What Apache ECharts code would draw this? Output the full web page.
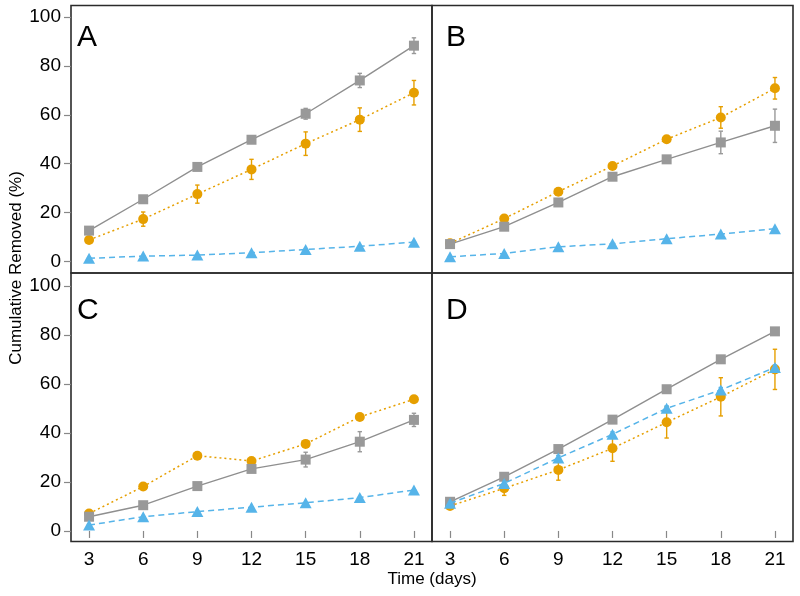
<!DOCTYPE html>
<html>
<head>
<meta charset="utf-8">
<script src="https://cdn.jsdelivr.net/npm/echarts@6/dist/echarts.min.js"></script>
<style>
html,body{margin:0;padding:0;background:#fff;}
#chart{width:800px;height:596px;}
</style>
</head>
<body>
<div id="chart"></div>
<script>
// ---- data ----
const days = [3, 6, 9, 12, 15, 18, 21];
const xTickValues = [3, 6, 9, 12, 15, 18, 21];
const yTickValues = [0, 20, 40, 60, 80, 100];
const panelLabels = ['A', 'B', 'C', 'D'];

const grayA   = [12.7, 25.5, 38.7, 49.8, 60.4, 74.0, 88.2];
const grayErrA = [0.8, 0.8, 0.8, 0.8, 2.2, 2.9, 3.2];
const orangeA = [8.9, 17.4, 27.6, 37.7, 48.2, 58.0, 69.0];
const orangeErrA = [1.0, 2.9, 3.7, 4.1, 4.8, 4.8, 5.0];
const blueA   = [1.4, 2.3, 2.7, 3.7, 5.0, 6.3, 8.0];
const blueErrA = [0, 0, 0, 0, 0, 0, 0];

const grayB   = [7.2, 14.3, 24.2, 34.7, 41.8, 48.7, 55.5];
const grayErrB = [0.5, 0.8, 0.8, 0.8, 1.0, 4.6, 6.8];
const orangeB = [7.5, 17.6, 28.6, 39.1, 50.0, 58.9, 70.8];
const orangeErrB = [0.5, 0.8, 0.8, 0.8, 0.8, 4.4, 4.4];
const blueB   = [2.0, 3.4, 6.1, 7.3, 9.4, 11.3, 13.5];
const blueErrB = [0, 0, 0, 0, 0, 0, 0];

const grayC   = [5.8, 10.5, 18.3, 25.3, 29.1, 36.4, 45.3];
const grayErrC = [0.5, 0.8, 0.8, 0.8, 3.0, 4.1, 2.7];
const orangeC = [7.1, 18.1, 30.7, 28.5, 35.5, 46.5, 53.7];
const orangeErrC = [0.5, 0.8, 0.8, 0.8, 0.8, 0.8, 0.8];
const blueC   = [2.4, 5.8, 7.9, 9.7, 11.5, 13.6, 16.7];
const blueErrC = [0, 0, 0, 0, 0, 0, 0];

const grayD   = [11.9, 22.1, 33.4, 45.4, 57.8, 70.0, 81.4];
const grayErrD = [0, 0, 0, 0, 0, 0, 0];
const orangeD = [10.2, 17.4, 24.9, 33.7, 44.3, 54.7, 65.9];
const orangeErrD = [0.8, 2.9, 4.2, 5.3, 6.4, 7.8, 8.2];
const blueD   = [11.3, 19.4, 29.8, 39.4, 50.0, 57.5, 66.7];
const blueErrD = [0.5, 0.8, 1.0, 1.0, 1.0, 1.0, 1.0];

const xTitle = 'Time (days)';
const yTitle = 'Cumulative Removed (%)';

// ---- build ----
const GRAY = '#999999', GRAYLINE = '#8f8f8f', ORANGE = '#E69F00', BLUE = '#56B4E9';
const FONT = '"Liberation Sans", Arial, Helvetica, sans-serif';

const panels = [
  { gray: grayA, gErr: grayErrA, orange: orangeA, oErr: orangeErrA, blue: blueA, bErr: blueErrA },
  { gray: grayB, gErr: grayErrB, orange: orangeB, oErr: orangeErrB, blue: blueB, bErr: blueErrB },
  { gray: grayC, gErr: grayErrC, orange: orangeC, oErr: orangeErrC, blue: blueC, bErr: blueErrC },
  { gray: grayD, gErr: grayErrD, orange: orangeD, oErr: orangeErrD, blue: blueD, bErr: blueErrD }
];

const gridPos = [
  { left: 71, top: 5.5, width: 361, height: 267.5 },
  { left: 432, top: 5.5, width: 361, height: 267.5 },
  { left: 71, top: 273, width: 361, height: 268.5 },
  { left: 432, top: 273, width: 361, height: 268.5 }
];
const yRange = [[-4.6, 104.6], [-4.6, 104.6], [-4.3, 105.2], [-4.3, 105.2]];

const grids = [], xAxes = [], yAxes = [], series = [];

function pairs(vals) { return days.map((d, i) => [d, vals[i]]); }
function errPairs(vals, errs) { return days.map((d, i) => [d, vals[i] - errs[i], vals[i] + errs[i]]); }

function errSeries(idx, vals, errs, color, z) {
  return {
    type: 'custom', xAxisIndex: idx, yAxisIndex: idx, z: z, silent: true,
    data: errPairs(vals, errs),
    renderItem: function (params, api) {
      const lo = api.coord([api.value(0), api.value(1)]);
      const hi = api.coord([api.value(0), api.value(2)]);
      const w = 2.2;
      const st = { stroke: color, lineWidth: 1.4 };
      return { type: 'group', children: [
        { type: 'line', shape: { x1: lo[0], y1: lo[1], x2: hi[0], y2: hi[1] }, style: st },
        { type: 'line', shape: { x1: lo[0] - w, y1: lo[1], x2: lo[0] + w, y2: lo[1] }, style: st },
        { type: 'line', shape: { x1: hi[0] - w, y1: hi[1], x2: hi[0] + w, y2: hi[1] }, style: st }
      ]};
    }
  };
}

panels.forEach((p, i) => {
  const isBottom = i >= 2, isLeft = i % 2 === 0;
  grids.push(Object.assign({ show: true, borderColor: '#2b2b2b', borderWidth: 1.6, backgroundColor: 'transparent' }, gridPos[i]));
  xAxes.push({
    type: 'value', gridIndex: i, min: 2, max: 22,
    axisLine: { show: false },
    splitLine: { show: false },
    axisTick: { show: isBottom, length: 7, customValues: xTickValues, lineStyle: { color: '#888', width: 1.2 } },
    axisLabel: { show: isBottom, customValues: xTickValues, margin: 9, fontSize: 19, color: '#000', fontFamily: FONT }
  });
  yAxes.push({
    type: 'value', gridIndex: i, min: yRange[i][0], max: yRange[i][1],
    axisLine: { show: false },
    splitLine: { show: false },
    axisTick: { show: isLeft, length: 7, customValues: yTickValues, lineStyle: { color: '#888', width: 1.2 } },
    axisLabel: { show: isLeft, customValues: yTickValues, margin: 10, fontSize: 19, color: '#000', fontFamily: FONT }
  });

  series.push(errSeries(i, p.orange, p.oErr, ORANGE, 2));
  series.push({
    name: 'Orange', type: 'line', xAxisIndex: i, yAxisIndex: i, z: 3,
    data: pairs(p.orange), symbol: 'circle', symbolSize: 10,
    itemStyle: { color: ORANGE }, lineStyle: { color: ORANGE, width: 1.5, type: [2, 3] }
  });
  series.push(errSeries(i, p.gray, p.gErr, GRAY, 4));
  series.push({
    name: 'Gray', type: 'line', xAxisIndex: i, yAxisIndex: i, z: 5,
    data: pairs(p.gray), symbol: 'rect', symbolSize: 10,
    itemStyle: { color: GRAY }, lineStyle: { color: GRAYLINE, width: 1.4, type: 'solid' }
  });
  series.push(errSeries(i, p.blue, p.bErr, BLUE, 6));
  series.push({
    name: 'Blue', type: 'line', xAxisIndex: i, yAxisIndex: i, z: 7,
    data: pairs(p.blue), symbol: 'triangle', symbolSize: [12, 11],
    itemStyle: { color: BLUE }, lineStyle: { color: BLUE, width: 1.5, type: [6, 4] }
  });
});

const letterPos = [[77, 23], [446, 23], [77, 296], [446, 296]];
const graphics = panelLabels.map((t, i) => ({
  type: 'text', left: letterPos[i][0], top: letterPos[i][1], z: 100,
  style: { text: t, fontSize: 30, fill: '#000', fontFamily: FONT }
}));
graphics.push({
  type: 'text', x: 432, y: 579, z: 100,
  style: { text: xTitle, fontSize: 17, fill: '#000', fontFamily: FONT, textAlign: 'center', textVerticalAlign: 'middle' }
});
graphics.push({
  type: 'text', x: 16, y: 268, rotation: Math.PI / 2, z: 100,
  style: { text: yTitle, fontSize: 17, fill: '#000', fontFamily: FONT, textAlign: 'center', textVerticalAlign: 'middle' }
});

const chart = echarts.init(document.getElementById('chart'), null, { renderer: 'canvas' });
chart.setOption({
  animation: false,
  backgroundColor: '#fff',
  grid: grids, xAxis: xAxes, yAxis: yAxes, series: series,
  graphic: graphics
});
</script>
</body>
</html>
